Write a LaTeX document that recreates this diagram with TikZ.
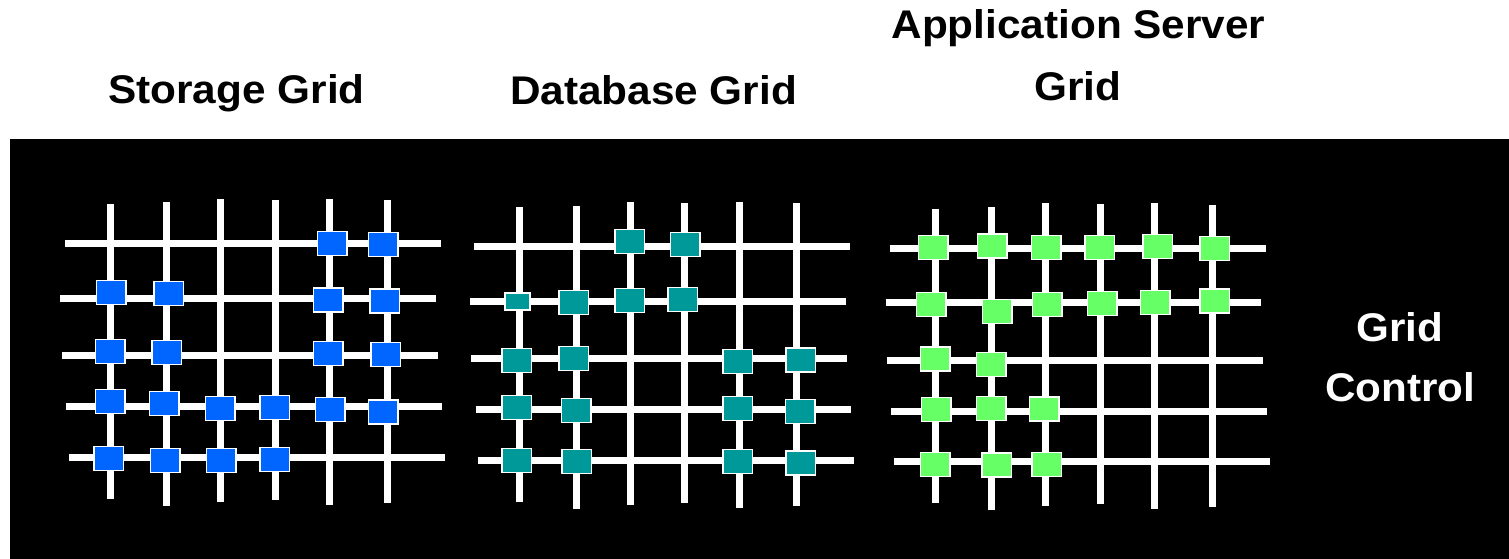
\documentclass[tikz,border=0pt]{standalone}
\usepackage{fontspec}
\setmainfont{Liberation Sans}
\definecolor{storeBlue}{HTML}{0066FF}
\definecolor{dbTeal}{HTML}{009999}
\definecolor{appGreen}{HTML}{66FF66}
\tikzset{
    gridLine/.style={draw=white, line width=7pt},
    chip/.style={rectangle, draw=white, line width=1.5pt, inner sep=0pt, minimum width=29.5pt, minimum height=24pt},
    storeChip/.style={chip, fill=storeBlue},
    dbChip/.style={chip, fill=dbTeal},
    appChip/.style={chip, fill=appGreen},
    gridTitle/.style={font=\fontsize{40}{48}\selectfont\bfseries, xscale=1.058, anchor=base, inner sep=0pt},
    ctrlText/.style={font=\fontsize{40}{48}\selectfont\bfseries, xscale=1.055, anchor=base, inner sep=0pt, text=white},
}
\newcommand{\hWire}[3]{
    \draw[gridLine] (#1,#3) -- (#2,#3);
}
\newcommand{\vWire}[3]{
    \draw[gridLine] (#1,#2) -- (#1,#3);
}

\begin{document}
\begin{tikzpicture}[x=1pt, y=-1pt]
        \useasboundingbox (0,0) rectangle (1509,559);
        \fill[black] (10,139) rectangle (1509,559);

        % titles
        \node[gridTitle] (storeTitle) at (236.5,104) {Storage Grid};
        \node[gridTitle] (dbTitle) at (653.5,105) {Database Grid};
        \node[gridTitle] (appTitle) at (1078.5,39) {Application Server};
        \node[gridTitle] (appTitleGrid) at (1078,101) {Grid};
        \node[ctrlText] (ctrlGrid) at (1400,341.5) {Grid};
        \node[ctrlText] (ctrlControl) at (1400,401.5) {Control};

        % storage grid
        \hWire{65}{440.7}{243.3}
        \hWire{60}{436}{298.3}
        \hWire{62}{437.7}{355.7}
        \hWire{66}{442}{406.7}
        \hWire{69}{444.7}{457}
        \vWire{110}{204.3}{499}
        \vWire{166.3}{202.3}{505.7}
        \vWire{220.7}{199}{501.7}
        \vWire{275}{199.7}{500}
        \vWire{329.7}{199}{504.7}
        \vWire{387.3}{200.3}{503.3}

        \node[storeChip] (s1) at (332.3,243.7) {};
        \node[storeChip] (s2) at (383,244.7) {};
        \node[storeChip] (s3) at (111.3,292.3) {};
        \node[storeChip] (s4) at (168.7,293.3) {};
        \node[storeChip] (s5) at (328,300) {};
        \node[storeChip] (s6) at (384.7,301) {};
        \node[storeChip] (s7) at (110,351.7) {};
        \node[storeChip] (s8) at (166.7,352.7) {};
        \node[storeChip] (s9) at (328,353.3) {};
        \node[storeChip] (s10) at (385.7,354.3) {};
        \node[storeChip] (s11) at (110,401.7) {};
        \node[storeChip] (s12) at (164.3,403.3) {};
        \node[storeChip] (s13) at (220.3,408.7) {};
        \node[storeChip] (s14) at (274.7,407.7) {};
        \node[storeChip] (s15) at (330,409.3) {};
        \node[storeChip] (s16) at (383.3,412) {};
        \node[storeChip] (s17) at (108.7,458.3) {};
        \node[storeChip] (s18) at (165.3,460.3) {};
        \node[storeChip] (s19) at (221.3,460.3) {};
        \node[storeChip] (s20) at (274.7,459.3) {};

        % database grid
        \hWire{474.3}{850}{246.7}
        \hWire{470}{845.7}{301.3}
        \hWire{471}{847}{358.3}
        \hWire{475.7}{851.3}{409.7}
        \hWire{478.3}{854}{460}
        \vWire{519.3}{207.3}{502}
        \vWire{576}{205.7}{508.7}
        \vWire{630}{202}{504.7}
        \vWire{684.3}{203}{503.3}
        \vWire{739}{202}{507.7}
        \vWire{796.7}{203.3}{506}

        \node[dbChip] (d1) at (629.7,241.7) {};
        \node[dbChip] (d2) at (685.3,244.7) {};
        \node[dbChip, minimum width=25pt, minimum height=17pt] (d3) at (517.3,301.7) {};
        \node[dbChip] (d4) at (573.7,302.3) {};
        \node[dbChip] (d5) at (629.7,300.3) {};
        \node[dbChip] (d6) at (682.7,299.3) {};
        \node[dbChip] (d7) at (516.7,360.3) {};
        \node[dbChip] (d8) at (573.7,358.7) {};
        \node[dbChip] (d9) at (737.7,361.3) {};
        \node[dbChip] (d10) at (800.7,360) {};
        \node[dbChip] (d11) at (516.7,407.3) {};
        \node[dbChip] (d12) at (576,410.3) {};
        \node[dbChip] (d13) at (737.7,408.7) {};
        \node[dbChip] (d14) at (800,411.7) {};
        \node[dbChip] (d15) at (516.7,460.3) {};
        \node[dbChip] (d16) at (576.7,461.7) {};
        \node[dbChip] (d17) at (737.7,461.7) {};
        \node[dbChip] (d18) at (800.7,463) {};

        % application server grid
        \hWire{890}{1265.7}{248}
        \hWire{885.7}{1261.3}{302.7}
        \hWire{887}{1262.7}{360}
        \hWire{891.3}{1267}{411}
        \hWire{894}{1269.7}{461.7}
        \vWire{935}{208.7}{503.3}
        \vWire{991.7}{207}{510}
        \vWire{1045.7}{203.3}{506}
        \vWire{1100}{204.3}{504.3}
        \vWire{1154.7}{203.3}{508.7}
        \vWire{1212.3}{204.7}{507.3}

        \node[appChip] (a1) at (933,247.7) {};
        \node[appChip] (a2) at (992.3,246) {};
        \node[appChip] (a3) at (1046.3,247.7) {};
        \node[appChip] (a4) at (1099.7,247.7) {};
        \node[appChip] (a5) at (1157.7,246.7) {};
        \node[appChip] (a6) at (1214.7,248.3) {};
        \node[appChip] (a7) at (931,304.3) {};
        \node[appChip] (a8) at (997,311.3) {};
        \node[appChip] (a9) at (1047.3,304.7) {};
        \node[appChip] (a10) at (1102.3,303.3) {};
        \node[appChip] (a11) at (1155.3,302.7) {};
        \node[appChip] (a12) at (1214.7,301) {};
        \node[appChip] (a13) at (935,359) {};
        \node[appChip] (a14) at (991,364.3) {};
        \node[appChip] (a15) at (936.3,409.3) {};
        \node[appChip] (a16) at (991,408.7) {};
        \node[appChip] (a17) at (1044,409) {};
        \node[appChip] (a18) at (935.3,464.3) {};
        \node[appChip] (a19) at (996.7,465) {};
        \node[appChip] (a20) at (1046.7,464.3) {};
    \end{tikzpicture}
\end{document}
